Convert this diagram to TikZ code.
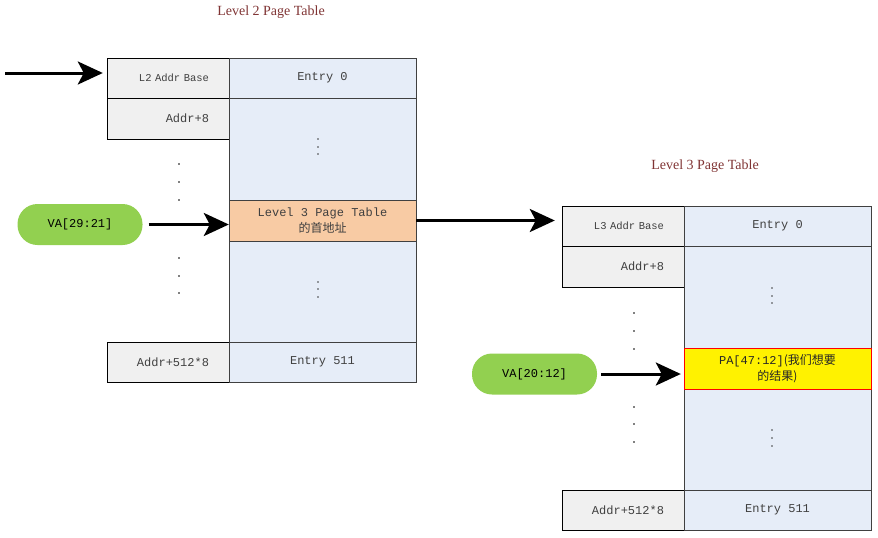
\documentclass[tikz,border=0pt]{standalone}
\usepackage{fontspec}
\setmainfont{Liberation Serif}
\setmonofont{Liberation Mono}
\newfontfamily\cjk{Noto Sans CJK SC}
\usetikzlibrary{arrows.meta}
\definecolor{addrgray}{RGB}{240,240,240}
\definecolor{entryblue}{RGB}{230,237,248}
\definecolor{ptorange}{RGB}{248,203,164}
\definecolor{vagreen}{RGB}{146,208,80}
\definecolor{titlered}{RGB}{128,52,52}
\definecolor{celltext}{RGB}{64,64,64}
\begin{document}
\begin{tikzpicture}[x=1pt,y=-1pt,
    addr/.style={draw=black,fill=addrgray,minimum width=122pt,inner sep=0pt,text width=82pt,align=right,text=celltext,font=\ttfamily\fontsize{12}{14}\selectfont},
    entry/.style={draw=black!75,fill=entryblue,minimum width=187pt,inner sep=0pt,align=center,text=celltext,font=\ttfamily\fontsize{12}{16}\selectfont},
    va/.style={fill=vagreen,rounded corners=20pt,minimum width=125pt,minimum height=41pt,font=\ttfamily\fontsize{12}{14}\selectfont},
    title/.style={text=titlered,font=\fontsize{14}{16}\selectfont},
    bigarrow/.style={line width=3pt,-{Stealth[length=25pt,width=23pt,inset=6pt]}}]
    \useasboundingbox (0,0) rectangle (878,538);

    \node[title] (L2title) at (271,12) {Level 2 Page Table};
    \node[title] (L3title) at (705,166) {Level 3 Page Table};

    \node[addr,minimum height=40pt,font=\ttfamily\fontsize{10.5}{12}\selectfont] (L2base) at (168,78) {L2 Addr Base};
    \node[addr,minimum height=41pt] (L2next) at (168,118.5) {Addr+8};
    \node[addr,minimum height=40pt] (L2last) at (168,362) {Addr+512*8};
    \node[entry,minimum height=40pt] (L2first) at (322.5,78) {Entry 0};
    \node[entry,minimum height=102pt] (L2upper) at (322.5,149) {};
    \node[entry,fill=ptorange,minimum height=41pt] (L2pt) at (322.5,220.5) {Level 3 Page Table\\{\cjk 的首地址}};
    \node[entry,minimum height=101pt] (L2lower) at (322.5,291.5) {};
    \node[entry,minimum height=40pt] (L2end) at (322.5,362) {Entry 511};
    \foreach \y in {164,182,200,258,276,293} \fill (179,\y) circle (0.8pt);
    \foreach \y in {139,147,154,282,289,297} \fill[celltext] (318,\y) circle (0.9pt);

    \begin{scope}[shift={(455,148)}]
        \node[addr,minimum height=40pt,font=\ttfamily\fontsize{10.5}{12}\selectfont] (L3base) at (168,78) {L3 Addr Base};
        \node[addr,minimum height=41pt] (L3next) at (168,118.5) {Addr+8};
        \node[addr,minimum height=40pt] (L3last) at (168,362) {Addr+512*8};
        \node[entry,minimum height=40pt] (L3first) at (322.5,78) {Entry 0};
        \node[entry,minimum height=102pt] (L3upper) at (322.5,149) {};
        \node[entry,minimum height=101pt] (L3lower) at (322.5,291.5) {};
        \node[entry,fill=yellow,draw=red,minimum height=41pt,text=black!85] (L3pa) at (322.5,220.5) {PA[47:12]{\cjk (我们想要}\\{\cjk 的结果)}};
        \node[entry,minimum height=40pt] (L3end) at (322.5,362) {Entry 511};
        \foreach \y in {165,183,201,259,276,294} \fill (179,\y) circle (0.8pt);
        \foreach \y in {140,148,155,282,290,298} \fill[celltext] (317,\y) circle (0.9pt);
    \end{scope}

    \node[va] (VAa) at (80,224.5) {VA[29:21]};
    \node[va] (VAb) at (534.5,374) {VA[20:12]};

    \coordinate (start) at (5,73);
    \draw[bigarrow,shorten >=4pt] (start) -- (start -| L2base.west); \draw[bigarrow] ([xshift=6pt]VAa.east) -- (VAa.east -| L2pt.west);
    \draw[bigarrow,shorten >=7pt] (L2pt.east) -- (L2pt.east -| L3base.west); \draw[bigarrow,shorten >=3pt] ([xshift=4pt]VAb.east) -- (VAb.east -| L3pa.west);
\end{tikzpicture}
\end{document}
